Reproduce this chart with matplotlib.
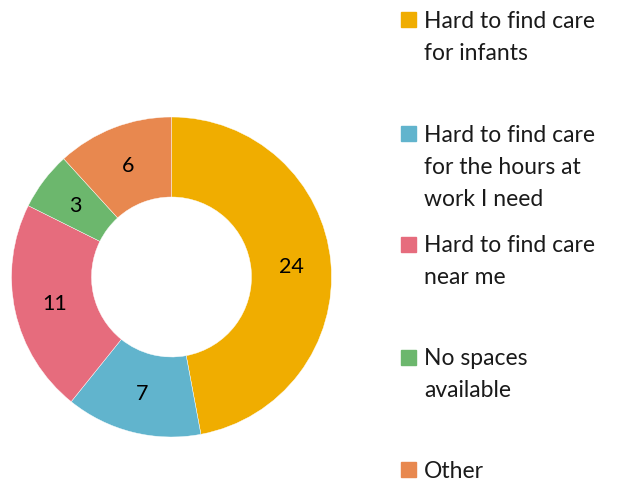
import matplotlib
matplotlib.use("Agg")
import matplotlib.pyplot as plt
from matplotlib.patches import Rectangle

# Data
categories = [
    ["Hard to find care", "for infants"],
    ["Hard to find care", "for the hours at", "work I need"],
    ["Hard to find care", "near me"],
    ["No spaces", "available"],
    ["Other"],
]
values = [24, 7, 11, 3, 6]
colors = ["#F0AD00", "#61B4CD", "#E66C7D", "#6CB76D", "#E8884F"]

plt.rcParams["font.family"] = ["Lato", "DejaVu Sans"]

W, H = 620, 481
fig = plt.figure(figsize=(W / 100, H / 100), dpi=100)

# Donut axes placed in pixel terms
cx, cy, r = 171.5, 278, 160
ax = fig.add_axes([(cx - r) / W, (H - cy - r) / H, 2 * r / W, 2 * r / H])
total = sum(values)
wedges, texts, autotexts = ax.pie(
    values,
    colors=colors,
    startangle=90,
    counterclock=False,
    radius=1,
    wedgeprops=dict(width=0.5, edgecolor="white", linewidth=0.3),
    autopct=lambda p: f"{round(p * total / 100)}",
    pctdistance=0.75,
    textprops=dict(fontsize=15.5, color="black"),
)
ax.set_xlim(-1, 1)
ax.set_ylim(-1, 1)
ax.set_aspect("equal")
ax.axis("off")

# Legend drawn manually to keep fixed slots
slot_centers = [20.5, 134, 245, 358, 470.5]
line_gap = 32
for lines, col, yc in zip(categories, colors, slot_centers):
    fig.patches.append(Rectangle((401 / W, (H - yc - 7.5) / H), 15 / W, 15 / H,
                                 transform=fig.transFigure, color=col))
    for i, line in enumerate(lines):
        yb = yc + 7.5 + i * line_gap
        fig.text(424 / W, (H - yb) / H, line, fontsize=16.5, va="baseline",
                 ha="left", color="#1a1a1a")

fig.savefig("out.png", dpi=100)
